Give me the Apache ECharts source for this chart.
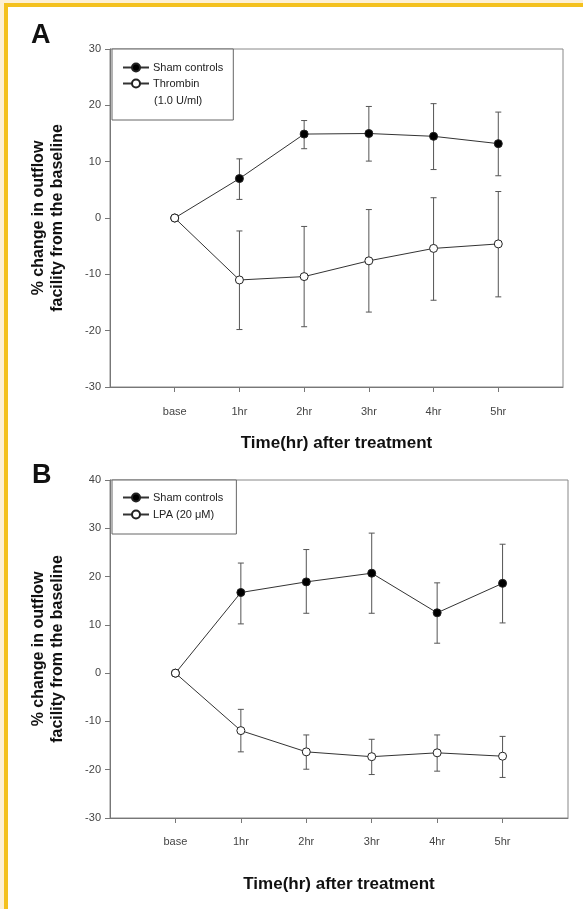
<!DOCTYPE html>
<html>
<head>
<meta charset="utf-8">
<script src="https://cdn.jsdelivr.net/npm/echarts@6/dist/echarts.min.js"></script>
<style>
html,body{margin:0;padding:0;background:#fff;}
#main{width:583px;height:909px;}
</style>
</head>
<body>
<div id="main"></div>
<script>
// ---- data ----
var categories = ['', 'base', '1hr', '2hr', '3hr', '4hr', '5hr', ''];
var timeLabels = ['base', '1hr', '2hr', '3hr', '4hr', '5hr'];

var A_sham    = [0, 7.0, 14.9, 15.0, 14.5, 13.2];
var A_sham_hi = [0, 10.5, 17.3, 19.8, 20.3, 18.8];
var A_sham_lo = [0, 3.3, 12.3, 10.1, 8.6, 7.5];
var A_thr     = [0, -11.0, -10.4, -7.6, -5.4, -4.6];
var A_thr_hi  = [0, -2.3, -1.5, 1.5, 3.6, 4.7];
var A_thr_lo  = [0, -19.8, -19.3, -16.7, -14.6, -14.0];

var B_sham    = [0, 16.7, 18.9, 20.7, 12.5, 18.6];
var B_sham_hi = [0, 22.8, 25.6, 29.0, 18.7, 26.7];
var B_sham_lo = [0, 10.2, 12.4, 12.4, 6.2, 10.4];
var B_lpa     = [0, -11.9, -16.3, -17.3, -16.5, -17.2];
var B_lpa_hi  = [0, -7.5, -12.8, -13.7, -12.8, -13.1];
var B_lpa_lo  = [0, -16.3, -19.9, -21.0, -20.3, -21.6];

var yTicksA = {min: -30, max: 30, interval: 10};
var yTicksB = {min: -30, max: 40, interval: 10};

// ---- helpers ----
var FONT = "'Liberation Sans', Arial, sans-serif";
function pairs(vals) { return timeLabels.map(function (t, i) { return [t, vals[i]]; }); }
function errData(lo, hi) {
  var out = [];
  for (var i = 1; i < timeLabels.length; i++) out.push([timeLabels[i], lo[i], hi[i]]);
  return out;
}
function errSeries(lo, hi, gi) {
  return {
    type: 'custom', xAxisIndex: gi, yAxisIndex: gi, z: 1, silent: true,
    data: errData(lo, hi), encode: {x: 0, y: [1, 2]},
    renderItem: function (params, api) {
      var x = api.value(0);
      var p1 = api.coord([x, api.value(1)]);
      var p2 = api.coord([x, api.value(2)]);
      var cw = 3;
      var st = {stroke: '#555', lineWidth: 1, fill: null};
      return {type: 'group', children: [
        {type: 'line', shape: {x1: p1[0], y1: p1[1], x2: p2[0], y2: p2[1]}, style: st},
        {type: 'line', shape: {x1: p1[0] - cw, y1: p1[1], x2: p1[0] + cw, y2: p1[1]}, style: st},
        {type: 'line', shape: {x1: p2[0] - cw, y1: p2[1], x2: p2[0] + cw, y2: p2[1]}, style: st}
      ]};
    }
  };
}
function lineSeries(name, vals, gi, filled) {
  return {
    name: name, type: 'line', xAxisIndex: gi, yAxisIndex: gi, z: 3,
    data: pairs(vals), symbol: 'circle', symbolSize: 8,
    lineStyle: {color: '#333', width: 1},
    itemStyle: {color: filled ? '#000' : '#fff', borderColor: '#222', borderWidth: 1},
    emphasis: {disabled: true}
  };
}
function xAxisDef(gi, margin, gap) {
  return {
    type: 'category', gridIndex: gi, data: categories, boundaryGap: false,
    axisLine: {onZero: false, lineStyle: {color: '#777'}},
    axisTick: {show: true, inside: false, length: 5, lineStyle: {color: '#777'},
      interval: function (i) { return i > 0 && i < categories.length - 1; }},
    axisLabel: {interval: 0, margin: margin, fontSize: 11, color: '#444', fontFamily: FONT},
    name: 'Time(hr) after treatment', nameLocation: 'middle', nameGap: gap,
    nameTextStyle: {fontSize: 17, fontWeight: 'bold', color: '#111', fontFamily: FONT},
    splitLine: {show: false}
  };
}
function yAxisDef(gi, t) {
  return {
    type: 'value', gridIndex: gi, min: t.min, max: t.max, interval: t.interval,
    axisLine: {show: true, onZero: false, lineStyle: {color: '#777'}},
    axisTick: {show: true, inside: false, length: 5, lineStyle: {color: '#777'}},
    axisLabel: {fontSize: 11, color: '#444', margin: 9, fontFamily: FONT},
    splitLine: {show: false},
    name: '% change in outflow\nfacility from the baseline', nameLocation: 'middle', nameGap: 43,
    nameTextStyle: {fontSize: 16, fontWeight: 'bold', color: '#111', lineHeight: 19, fontFamily: FONT}
  };
}

var chart = echarts.init(document.getElementById('main'), null, {renderer: 'canvas'});
chart.setOption({
  backgroundColor: '#fff',
  animation: false,
  grid: [
    {left: 110, top: 49, width: 453, height: 338, show: true, borderColor: '#888', borderWidth: 1},
    {left: 110, top: 480, width: 458, height: 338, show: true, borderColor: '#888', borderWidth: 1}
  ],
  xAxis: [xAxisDef(0, 19, 48), xAxisDef(1, 18, 58)],
  yAxis: [yAxisDef(0, yTicksA), yAxisDef(1, yTicksB)],
  legend: [
    {data: ['Sham controls', 'Thrombin'], left: 112, top: 49, orient: 'vertical',
     itemWidth: 26, itemHeight: 10, itemGap: 5, padding: [13, 10, 31, 10],
     borderColor: '#666', borderWidth: 1, backgroundColor: '#fff', selectedMode: false,
     textStyle: {fontSize: 11, color: '#222', fontFamily: FONT, padding: [0, 0, 0, -1]}},
    {data: ['Sham controls ', 'LPA (20 μM)'], left: 112, top: 480, orient: 'vertical',
     itemWidth: 26, itemHeight: 10, itemGap: 6, padding: [12, 10, 14, 10],
     borderColor: '#666', borderWidth: 1, backgroundColor: '#fff', selectedMode: false,
     textStyle: {fontSize: 11, color: '#222', fontFamily: FONT, padding: [0, 0, 0, -1]}}
  ],
  graphic: [
    {type: 'rect', shape: {x: 0, y: 0, width: 583, height: 3}, style: {fill: '#FDF0D4'}, silent: true},
    {type: 'rect', shape: {x: 0, y: 0, width: 4, height: 909}, style: {fill: '#FDF0D4'}, silent: true},
    {type: 'rect', shape: {x: 4, y: 3, width: 579, height: 4}, style: {fill: '#F4C11E'}, silent: true},
    {type: 'rect', shape: {x: 4, y: 3, width: 4, height: 906}, style: {fill: '#F4C11E'}, silent: true},
    {type: 'text', left: 31, top: 22, style: {text: 'A', fontSize: 27, fontWeight: 'bold', fill: '#111', fontFamily: FONT}},
    {type: 'text', left: 32, top: 462, style: {text: 'B', fontSize: 27, fontWeight: 'bold', fill: '#111', fontFamily: FONT}},
    {type: 'text', left: 154, top: 95, z: 100, style: {text: '(1.0 U/ml)', fontSize: 11, fill: '#222', fontFamily: FONT}}
  ],
  series: [
    errSeries(A_sham_lo, A_sham_hi, 0),
    errSeries(A_thr_lo, A_thr_hi, 0),
    lineSeries('Sham controls', A_sham, 0, true),
    lineSeries('Thrombin', A_thr, 0, false),
    errSeries(B_sham_lo, B_sham_hi, 1),
    errSeries(B_lpa_lo, B_lpa_hi, 1),
    lineSeries('Sham controls ', B_sham, 1, true),
    lineSeries('LPA (20 μM)', B_lpa, 1, false)
  ]
});
</script>
</body>
</html>
